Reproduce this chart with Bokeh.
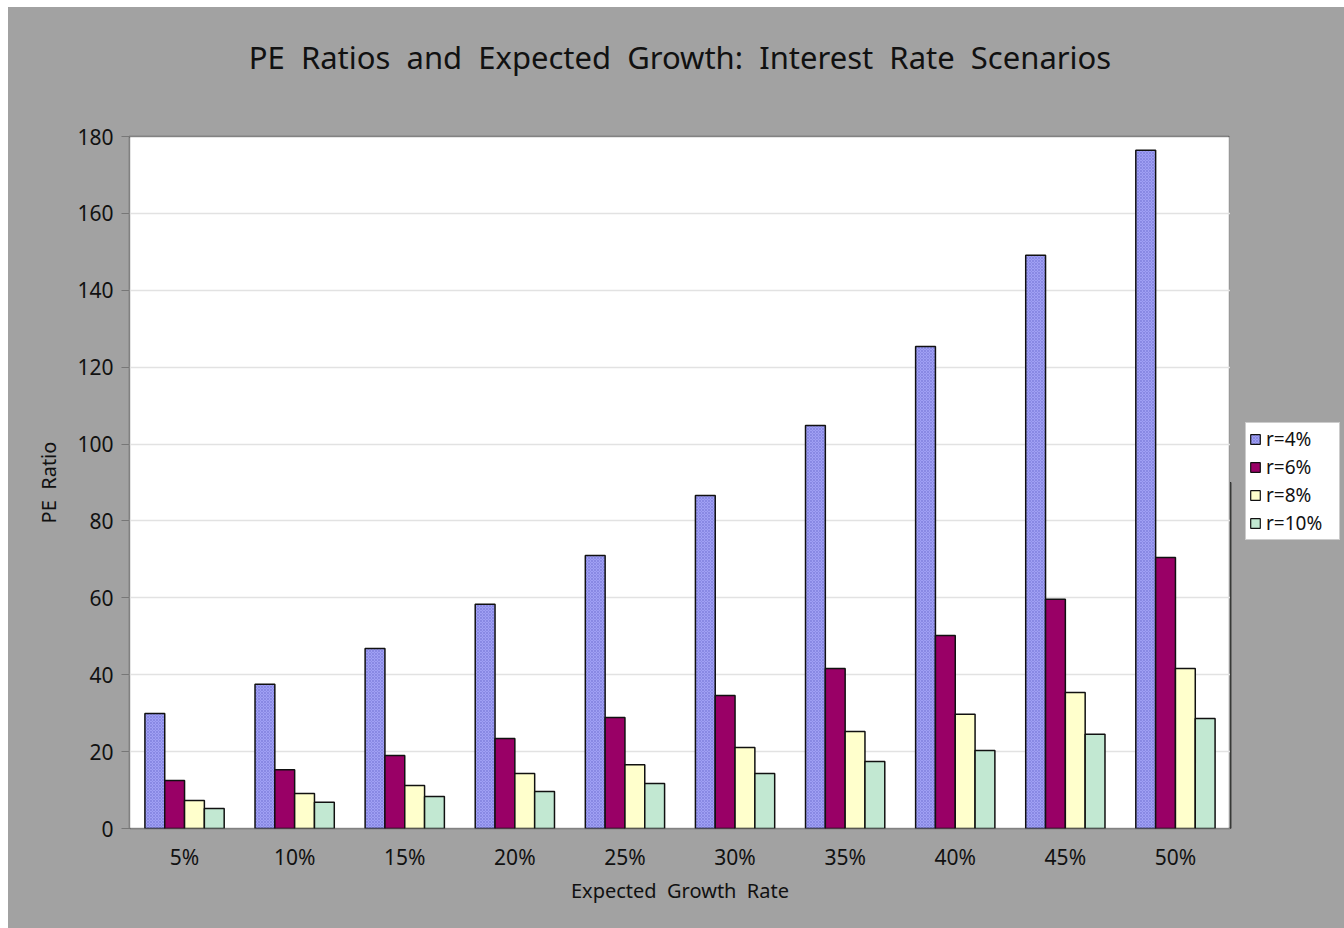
from bokeh.plotting import figure
from bokeh.layouts import row
from bokeh.models import FactorRange, Legend, LegendItem, ColumnDataSource, SingleIntervalTicker, Title
from bokeh.transform import dodge
from bokeh.embed import file_html
from bokeh.resources import INLINE

growth = ["5%", "10%", "15%", "20%", "25%", "30%", "35%", "40%", "45%", "50%"]
pe_r4 = [29.9, 37.5, 46.8, 58.3, 71.0, 86.6, 104.8, 125.4, 149.1, 176.4]
pe_r6 = [12.5, 15.3, 19.0, 23.4, 28.9, 34.6, 41.6, 50.2, 59.6, 70.5]
pe_r8 = [7.3, 9.1, 11.2, 14.3, 16.6, 21.1, 25.2, 29.7, 35.4, 41.6]
pe_r10 = [5.2, 6.8, 8.3, 9.6, 11.7, 14.3, 17.4, 20.3, 24.5, 28.6]
series_names = ["r=4%", "r=6%", "r=8%", "r=10%"]

FONT = "Noto Sans"
BG = "#A2A2A2"
SP = "\u00a0\u00a0"

src = ColumnDataSource(dict(g=growth, r4=pe_r4, r6=pe_r6, r8=pe_r8, r10=pe_r10))

title_text = SP.join(["PE", "Ratios", "and", "Expected", "Growth:", "Interest", "Rate", "Scenarios"])

p = figure(x_range=FactorRange(*growth), y_range=(0, 180),
           frame_width=1101, frame_height=692, output_backend="svg", toolbar_location=None)
p.background_fill_color = "white"
p.border_fill_color = BG
p.min_border_left = 121
p.min_border_bottom = 100
p.min_border_top = 129
p.min_border_right = 0
p.x_range.range_padding = 0
p.x_range.group_padding = 0

# real title, then a blank spacer title between it and the frame
p.title.text = title_text
p.title.align = "center"
p.title.text_font = FONT
p.title.text_font_size = "31px"
p.title.text_font_style = "normal"
p.title.text_color = "#111111"
p.add_layout(Title(text="\u00a0", text_font_size="38px"), "above")

p.outline_line_color = "#333333"
p.outline_line_dash = "1 1"
p.outline_line_width = 1.5

p.xgrid.grid_line_color = None
p.ygrid.grid_line_color = "#E2E2E2"
p.ygrid.grid_line_width = 1.5

p.yaxis.ticker = SingleIntervalTicker(interval=20, num_minor_ticks=0)
for ax in (p.xaxis[0], p.yaxis[0]):
    ax.axis_line_color = None
    ax.major_label_text_font = FONT
    ax.major_label_text_font_size = "21px"
    ax.major_label_text_color = "#111111"
    ax.axis_label_text_font = FONT
    ax.axis_label_text_font_size = "20px"
    ax.axis_label_text_font_style = "normal"
    ax.axis_label_text_color = "#111111"
    ax.minor_tick_line_color = None
p.yaxis.major_tick_line_color = "#777777"
p.yaxis.major_tick_out = 8
p.yaxis.major_tick_in = 0
p.yaxis.major_label_standoff = 8
p.yaxis.axis_label = "PE" + SP + "Ratio"
p.yaxis.axis_label_standoff = 12
p.xaxis.major_tick_line_color = None
p.xaxis.major_label_standoff = 8
p.xaxis.axis_label = SP.join(["Expected", "Growth", "Rate"])
p.xaxis.axis_label_standoff = 3

w = 0.18
offsets = [-1.5 * w, -0.5 * w, 0.5 * w, 1.5 * w]
cols = ["r4", "r6", "r8", "r10"]
fills = ["#A0A0F4", "#990066", "#FFFFCC", "#C2E8D2"]
hatch = dict(hatch_pattern="diagonal_cross", hatch_color="#7878D8", hatch_scale=3, hatch_weight=0.6)
for col, off, fc in zip(cols, offsets, fills):
    kw = hatch if col == "r4" else {}
    p.vbar(x=dodge("g", off, range=p.x_range), top=col, width=w, source=src,
           fill_color=fc, line_color="#111111", line_width=1.5, **kw)

# legend panel to the right of the chart (its frame is aligned with the chart frame)
lg = figure(width=114, height=921, x_range=(0, 1), y_range=(0, 1),
            x_axis_location=None, y_axis_location=None,
            output_backend="svg", toolbar_location=None, min_border=0)
lg.background_fill_color = BG
lg.border_fill_color = BG
lg.outline_line_color = BG
lg.outline_line_width = 3
lg.grid.visible = False
items = []
for name, col, fc in zip(series_names, cols, fills):
    kw = hatch if col == "r4" else {}
    # off-range proxy glyph, used only for the legend swatch
    r = lg.vbar(x=[-10], top=[0.5], width=0.1, fill_color=fc, line_color="#111111",
                line_width=1.2, **kw)
    items.append(LegendItem(label=name, renderers=[r]))

legend = Legend(items=items, location=(15, 288))
legend.label_text_font = FONT
legend.label_text_font_size = "19px"
legend.label_text_color = "#111111"
legend.glyph_width = 12
legend.glyph_height = 12
legend.label_height = 20
legend.label_width = 70
legend.spacing = 2
legend.padding = 3
legend.margin = 0
legend.label_standoff = 5
legend.background_fill_color = "white"
legend.background_fill_alpha = 1
legend.border_line_color = "#999999"
lg.add_layout(legend, "center")

layout = row(p, lg, spacing=0)
layout.styles = {"margin-left": "8px", "margin-top": "7px", "background-color": BG}

open("out.html", "w").write(file_html(layout, INLINE))
